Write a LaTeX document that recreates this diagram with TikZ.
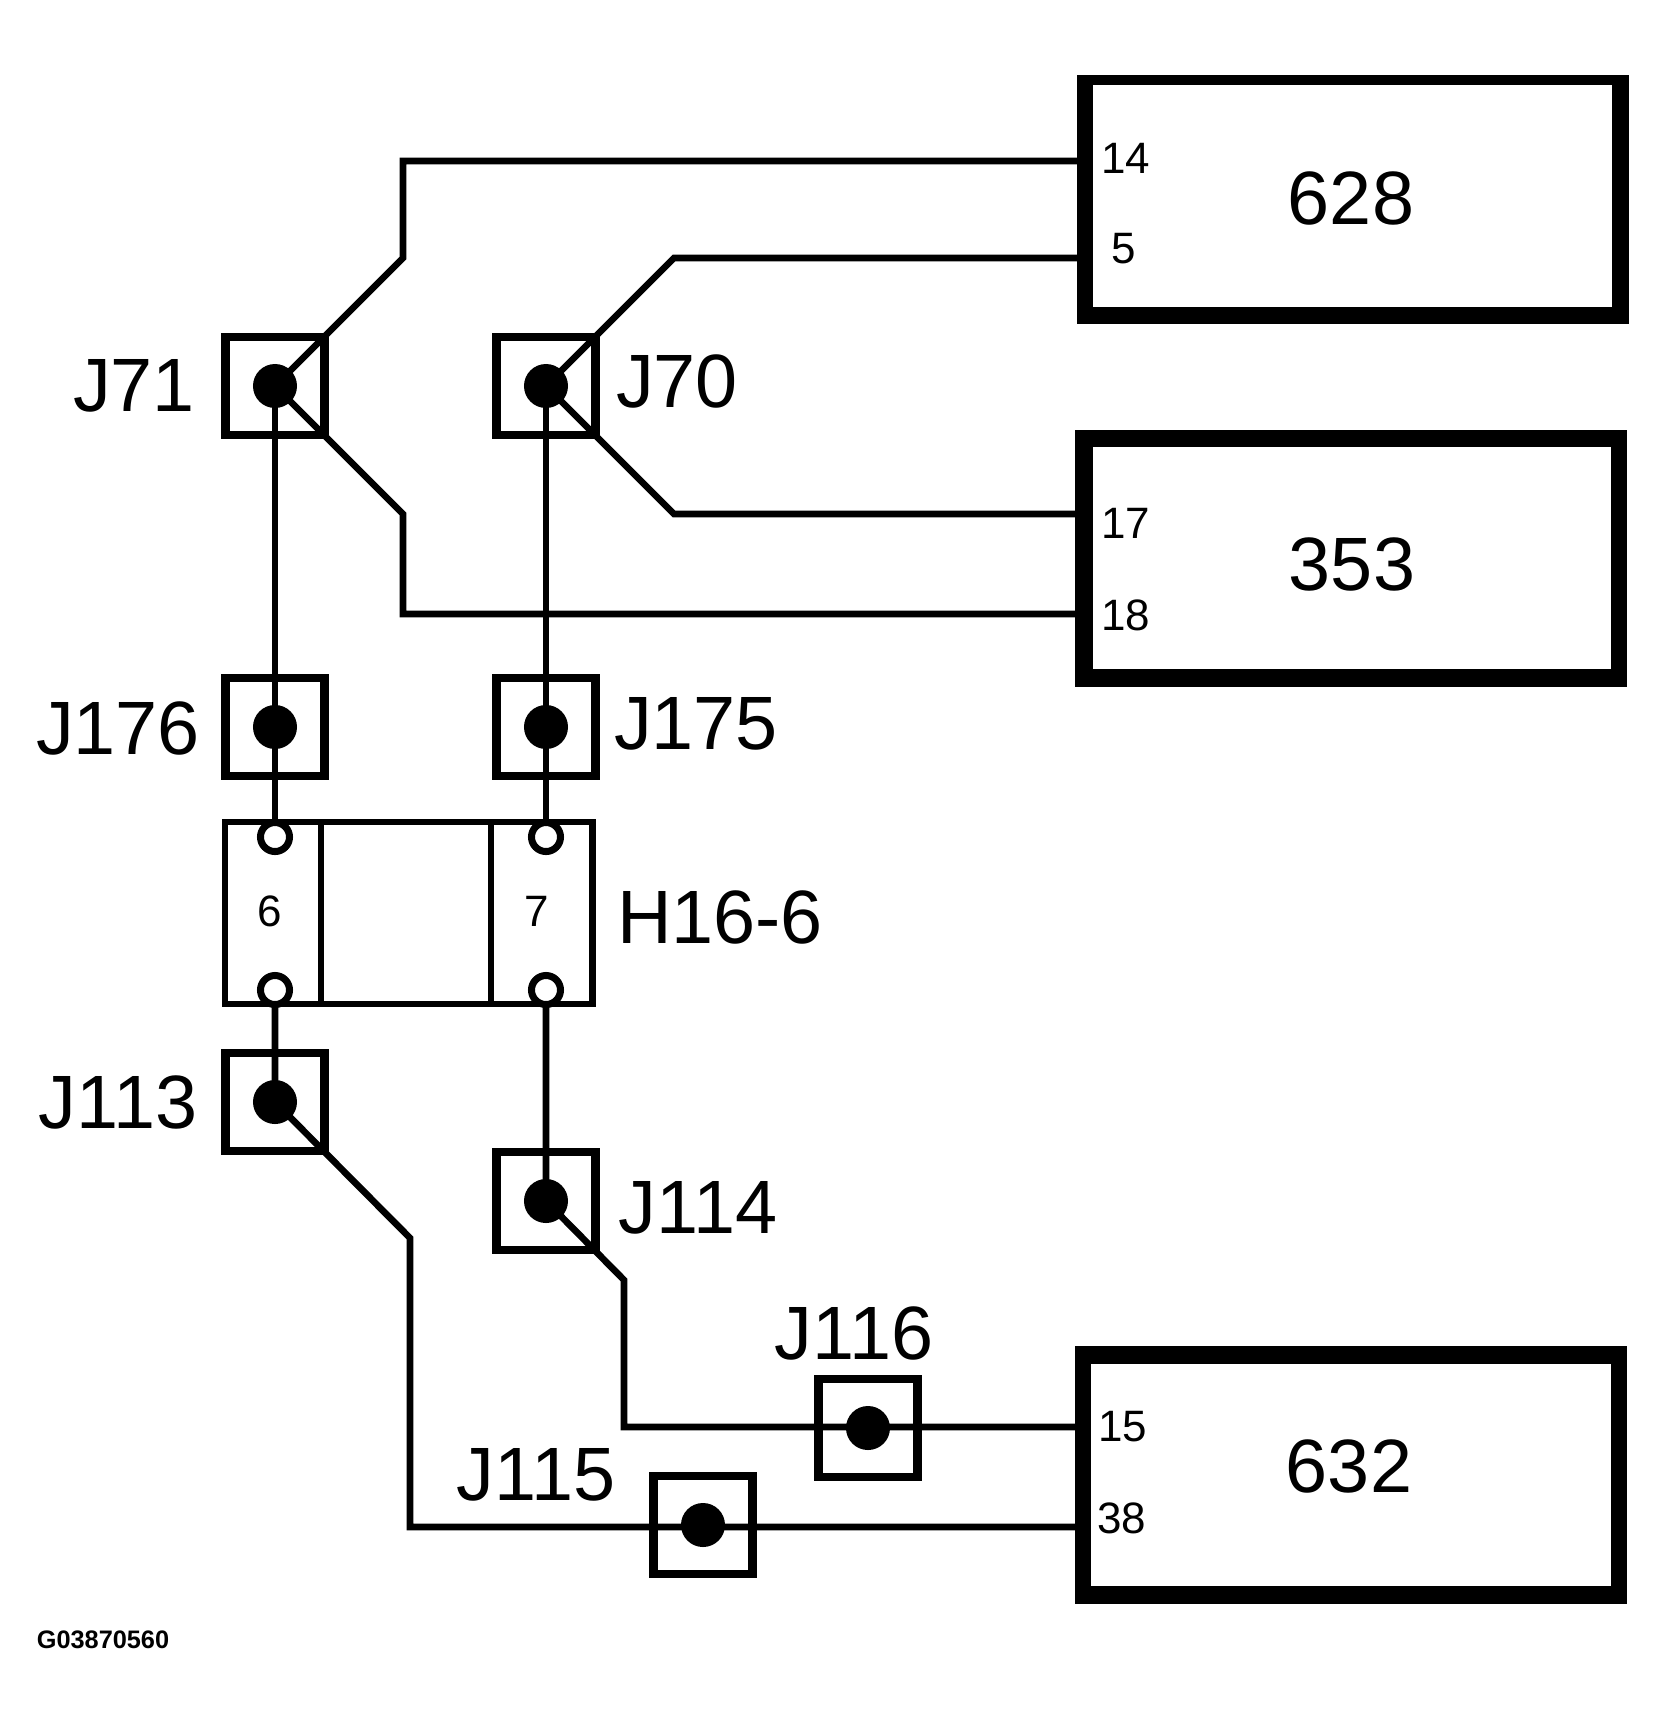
\documentclass[tikz,border=0pt]{standalone}
\usepackage{fontspec}
\setmainfont{Liberation Sans}
\usetikzlibrary{positioning}

\begin{document}
\begin{tikzpicture}[x=0.01cm,y=-0.01cm]
% definizione dei nodi
\tikzset{myjbox/.style={rectangle,draw,line width=2.45pt,minimum width=0.99cm,minimum height=0.98cm,inner sep=0pt}}
\tikzset{mydot/.style={circle,fill=black,draw=none,minimum size=0.44cm,inner sep=0pt}}
\tikzset{mypin/.style={circle,draw,fill=white,line width=2pt,minimum size=0.29cm,inner sep=0pt}}
\tikzset{mycell/.style={rectangle,draw,line width=1.9pt,minimum height=1.82cm,inner sep=0pt,outer sep=0pt}}
\tikzset{mymodule/.style={rectangle,fill=black,draw=none,inner sep=0pt,outer sep=0pt}}
\tikzset{myinner/.style={rectangle,fill=white,draw=none,inner sep=0pt,outer sep=0pt}}
\tikzset{mywire/.style={line width=1.9pt,line join=miter}}
\tikzset{mylabel/.style={inner sep=0pt,font=\fontsize{21.5}{25}\selectfont}}
\tikzset{mybig/.style={inner sep=0pt,font=\fontsize{21.5}{25}\selectfont}}
\tikzset{mysmall/.style={inner sep=0pt,font=\fontsize{12.5}{15}\selectfont}}

\useasboundingbox (0,0) rectangle (1665,1723);

%----
% moduli a destra
\foreach \n/\x/\y/\w/\h/\ix/\iy/\iw/\ih in {m628/1353/199.5/5.52/2.49/1352.5/196/5.19/2.22,m353/1351/558.5/5.52/2.57/1352/558/5.18/2.22,m632/1351/1475/5.52/2.58/1351/1475/5.20/2.22}{
\node[mymodule,minimum width=\w cm,minimum height=\h cm] (\n) at (\x,\y) {};
\node[myinner,minimum width=\iw cm,minimum height=\ih cm] (\n i) at (\ix,\iy) {};
}

% inserimento giunzioni
\foreach \n/\x/\y in {J71/275/386,J70/546/386,J176/275/727,J175/546/727,J113/275/1102,J114/546/1201,J116/868/1428,J115/703/1525}
\node[myjbox] (\n) at (\x,\y) {};

% pin del connettore e punti di piega
\foreach \n/\x/\y in {pin6a/275/837,pin6b/275/990,pin7a/546/837,pin7b/546/990}
\coordinate (\n) at (\x,\y);
\foreach \n/\x/\y in {a1/403/258,a2/403/161,a3/1077/161,b1/403/514,b2/403/614,b3/1075/614,c1/674/258,c2/1077/258,d1/674/514,d2/1075/514,e1/410/1238,e2/410/1527,e3/1075/1527,f1/624/1280,f2/624/1427,f3/1075/1427}
\coordinate (\n) at (\x,\y);

% inserimento path
\draw[mywire] (J71.center)--(a1)--(a2)--(a3);
\draw[mywire] (J71.center)--(b1)--(b2)--(b3);
\draw[mywire] (J70.center)--(c1)--(c2);
\draw[mywire] (J70.center)--(d1)--(d2);
\draw[mywire] (J71.center)--(J176.center)--(pin6a);
\draw[mywire] (J70.center)--(J175.center)--(pin7a);
\draw[mywire] (pin6b)--(J113.center)--(e1)--(e2)--(e3);
\draw[mywire] (pin7b)--(J114.center)--(f1)--(f2)--(f3);

% pallini
\foreach \n in {J71,J70,J176,J175,J113,J114,J116,J115}
\node[mydot] (\n dot) at (\n) {};
\foreach \n in {pin6a,pin6b,pin7a,pin7b}
\node[mypin] (\n c) at (\n) {};

% connettore H16-6
\node[mycell,minimum width=0.96cm] (cell6) at (273,913) {};
\node[mycell,minimum width=1.70cm,right=0pt of cell6] (cellm) {};
\node[mycell,minimum width=1.01cm,right=0pt of cellm] (cell7) {};

% inserimento label
\foreach \n/\x/\y in {J71/134/386,J70/677/381,J176/118/728,J175/696/724,H16-6/720/917,J113/118/1102,J114/698/1208,J116/854/1333,J115/536/1475}
\node[mylabel] (lab\n) at (\x,\y) {\n};
\foreach \n/\x/\y in {628/1351/198,353/1352/564,632/1349/1466}
\node[mybig] (lab\n) at (\x,\y) {\n};
\foreach \n/\x/\y in {14/1126/158,5/1124/249,17/1126/523,18/1126/615,15/1123/1427,38/1122/1518,6/270/911,7/537/911}
\node[mysmall] (lab\n) at (\x,\y) {\n};
\node[inner sep=0pt,font=\fontsize{7.2}{9}\selectfont\bfseries] (code) at (103,1640) {G03870560};
\end{tikzpicture}
\end{document}
